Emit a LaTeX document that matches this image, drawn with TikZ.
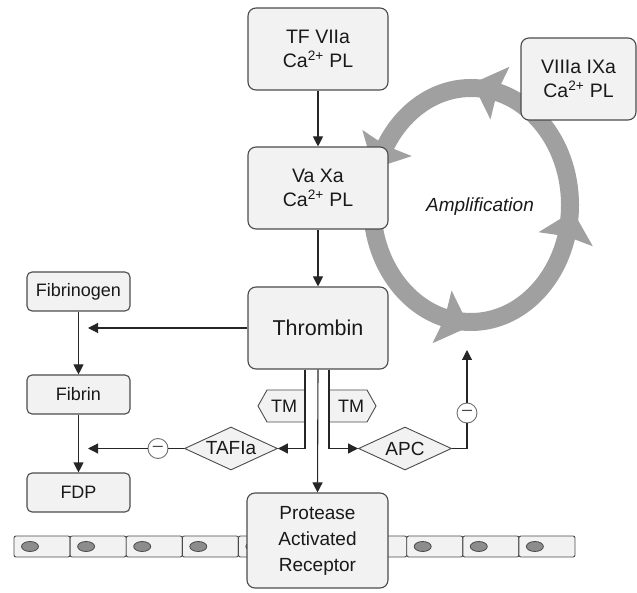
\documentclass[tikz,border=0pt]{standalone}
\usepackage{fontspec}
\setmainfont{Liberation Sans}
\usetikzlibrary{arrows.meta,shapes.geometric,calc}
\definecolor{boxfill}{RGB}{242,242,242}
\definecolor{boxline}{RGB}{75,75,75}
\definecolor{ringgray}{RGB}{160,160,160}
\definecolor{txt}{RGB}{25,25,25}
\definecolor{nuc}{RGB}{140,140,140}
\newcommand\myfs[2]{\fontsize{#1pt}{#2pt}\selectfont}
\begin{document}
\begin{tikzpicture}[x=1pt,y=1pt,
  bigbox/.style={draw=boxline, fill=boxfill, line width=1.1pt, rounded corners=8pt, minimum width=140pt, minimum height=82pt, align=center, text=txt, inner sep=0pt, font=\myfs{19.5}{24}},
  smallbox/.style={draw=boxline, fill=boxfill, line width=1.1pt, rounded corners=5pt, minimum width=103pt, minimum height=39pt, text=txt, inner sep=0pt, font=\myfs{18}{22}},
  dia/.style={draw=boxline, fill=boxfill, line width=0.9pt, shape=diamond, aspect=2.15, inner sep=0pt, minimum width=93pt, minimum height=43pt, text=txt, font=\myfs{19}{22}},
  tmshape/.style={draw=boxline, fill=boxfill, line width=0.9pt},
  minus/.style={circle, draw=boxline!80, fill=white, line width=0.9pt, minimum size=20pt, inner sep=0pt, text=boxline, font=\myfs{18}{18}},
  cellbox/.style={draw=boxline, fill=boxfill, line width=0.9pt, rounded corners=2pt},
  nucleus/.style={draw=boxline, fill=nuc, line width=0.8pt},
  conn/.style={draw=black!85, line width=1.1pt},
  arr/.style={conn, -{Triangle[width=10pt,length=10pt]}},
]
\useasboundingbox (0,0) rectangle (637,592);
% amplification ring
\draw[ringgray, line width=18pt] (471,387) ellipse [x radius=99, y radius=117];
\foreach \t in {73,148,253,343} {
  \fill[ringgray, shift={({471+99*cos(\t)},{387+117*sin(\t)})}, rotate={atan2(117*cos(\t),-99*sin(\t))}]
    (29,0) -- (0,28) -- (3,0) -- (0,-28) -- cycle;
}
\node[font=\myfs{19}{22}\itshape, text=txt] (amp) at (480,385) {Amplification};
% boxes
\node[bigbox] (tf) at (318,543) {TF VIIa\\Ca\textsuperscript{2+} PL};
\node[bigbox] (vx) at (318,404) {Va Xa\\Ca\textsuperscript{2+} PL};
\node[bigbox, font=\myfs{21.5}{26}] (thr) at (318,264) {Thrombin};
\node[bigbox, minimum width=115pt] (v8) at (578.5,513) {VIIIa IXa\\Ca\textsuperscript{2+} PL};
\node[smallbox] (fbg) at (78.5,300.5) {Fibrinogen};
\node[smallbox] (fbn) at (78.5,197.5) {Fibrin};
\node[smallbox] (fdp) at (78.5,99.5) {FDP};
% cell layer
\foreach \i in {0,...,9} {
  \path[cellbox] ({14+56.1*\i},35) rectangle ({14+56.1*(\i+1)},56);
  \path[nucleus] ({30+56.1*\i},45.5) ellipse [x radius=8.5, y radius=5];
}
\node[bigbox, minimum width=141pt, minimum height=95pt, font=\myfs{19}{26}] (par) at (317.5,51.5) {Protease\\Activated\\Receptor};
% TM labels
\path[tmshape] (305,202) -- (267,202) -- (258,186) -- (267,170) -- (305,170) -- cycle;
\node[text=txt, font=\myfs{18}{22}] (tm1) at (284,186) {TM};
\path[tmshape] (329,202) -- (367,202) -- (376,186) -- (367,170) -- (329,170) -- cycle;
\node[text=txt, font=\myfs{18}{22}] (tm2) at (351,186) {TM};
% diamonds and inhibitors
\node[dia] (taf) at (231,143.5) {TAFIa};
\node[dia] (apc) at (405,143.5) {APC};
\node[minus] (m1) at (158,143.5) {–};
\node[minus] (m2) at (467,179) {–};
% connectors
\draw[arr] (tf) -- (vx);
\draw[arr] (vx) -- (thr);
\coordinate (j1) at (88,264);
\draw[arr] (thr.west) -- (j1);
\draw[arr] (fbg) -- (fbn);
\draw[arr] (fbn) -- (fdp);
\coordinate (j2) at (88,143.5);
\draw[arr] (m1) -- (j2);
\draw[conn] (m1) -- (taf.west);
\draw[arr] ([xshift=-13pt]thr.south) |- (taf.east);
\draw[arr] (thr.south) -- (par.north);
\draw[arr] ([xshift=11pt]thr.south) |- (apc.west);
\draw[conn] (apc.east) -| (m2.south);
\coordinate (j3) at (467,242);
\draw[arr] (m2.north) -- (j3);
\end{tikzpicture}
\end{document}
